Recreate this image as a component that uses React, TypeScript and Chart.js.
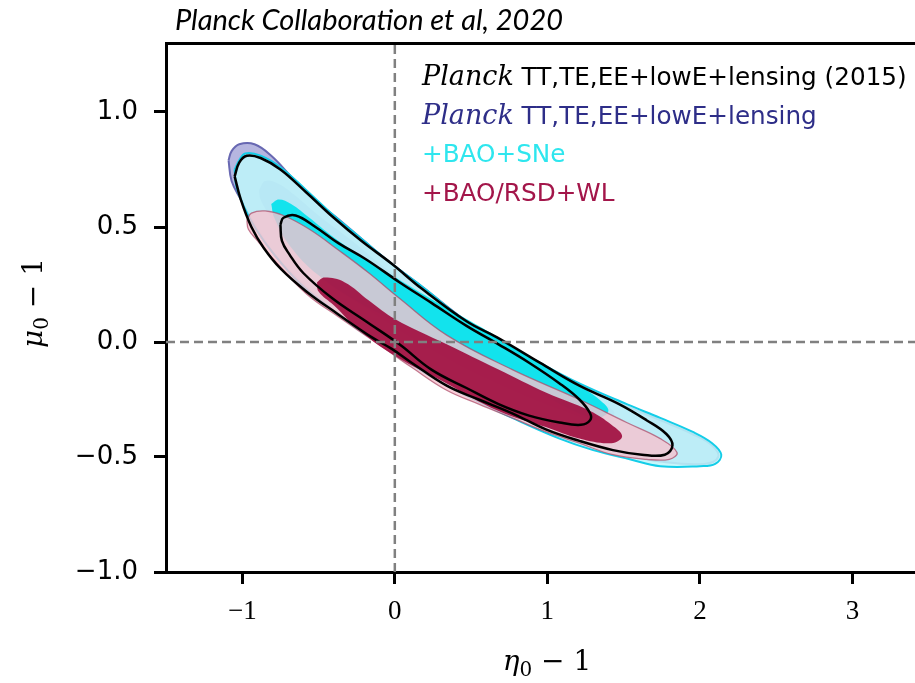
import React, { useEffect, useRef } from 'react';
import { Chart, registerables } from 'chart.js';

Chart.register(...registerables);

type Pt = [number, number];

// Closed 68% / 95% contours in the (η0−1, μ0−1) plane, traced from the upper-left tip.
const planck2015Outer: Pt[] = [
  [-1.05, 0.72], [-1.02, 0.78], [-0.97, 0.81], [-0.88, 0.80], [-0.75, 0.75], [-0.58, 0.65],
  [-0.40, 0.54], [-0.22, 0.44], [-0.02, 0.34], [0.18, 0.23], [0.47, 0.09], [0.67, 0.02],
  [0.95, -0.09], [1.21, -0.19], [1.47, -0.27], [1.65, -0.34], [1.78, -0.40], [1.82, -0.45],
  [1.77, -0.49], [1.62, -0.49], [1.43, -0.47], [1.21, -0.43], [0.99, -0.38], [0.77, -0.31],
  [0.55, -0.25], [0.34, -0.19], [0.11, -0.09], [-0.02, -0.03], [-0.15, 0.02], [-0.37, 0.12],
  [-0.58, 0.22], [-0.75, 0.32], [-0.86, 0.41], [-0.94, 0.50], [-1.01, 0.62],
];

const planck2015Inner: Pt[] = [
  [-0.75, 0.51], [-0.73, 0.54], [-0.65, 0.55], [-0.52, 0.50], [-0.37, 0.43], [-0.19, 0.36],
  [0.03, 0.26], [0.24, 0.17], [0.47, 0.07], [0.68, -0.01], [0.88, -0.09], [1.08, -0.18],
  [1.21, -0.25], [1.28, -0.31], [1.28, -0.34], [1.22, -0.36], [1.08, -0.35], [0.88, -0.32],
  [0.68, -0.27], [0.47, -0.20], [0.24, -0.12], [0.03, -0.01], [-0.19, 0.09], [-0.41, 0.19],
  [-0.60, 0.30], [-0.69, 0.38], [-0.74, 0.44],
];

const planckOuter: Pt[] = [
  [-1.09, 0.79], [-1.07, 0.83], [-1.02, 0.86], [-0.92, 0.86], [-0.81, 0.81], [-0.68, 0.72],
  [-0.53, 0.62], [-0.38, 0.54], [-0.22, 0.45], [-0.02, 0.34], [0.18, 0.24], [0.47, 0.09],
  [0.68, 0.00], [0.95, -0.10], [1.21, -0.19], [1.52, -0.28], [1.74, -0.34], [1.95, -0.40],
  [2.08, -0.45], [2.12, -0.50], [2.03, -0.53], [1.74, -0.52], [1.52, -0.49], [1.30, -0.45],
  [1.08, -0.40], [0.77, -0.31], [0.55, -0.24], [0.34, -0.17], [0.11, -0.08], [-0.10, 0.00],
  [-0.30, 0.09], [-0.48, 0.18], [-0.63, 0.27], [-0.79, 0.38], [-0.92, 0.51], [-1.01, 0.62],
  [-1.07, 0.70],
];

const planckInner: Pt[] = [
  [-0.89, 0.66], [-0.85, 0.70], [-0.77, 0.69], [-0.66, 0.64], [-0.50, 0.55], [-0.30, 0.45],
  [-0.02, 0.30], [0.29, 0.16], [0.68, -0.04], [1.08, -0.17], [1.34, -0.26], [1.44, -0.31],
  [1.34, -0.34], [1.08, -0.29], [0.68, -0.18], [0.29, -0.05], [-0.10, 0.11], [-0.43, 0.26],
  [-0.66, 0.40], [-0.81, 0.54], [-0.88, 0.62],
];

const baoSneOuter: Pt[] = [
  [-1.05, 0.75], [-1.02, 0.79], [-0.98, 0.82], [-0.88, 0.81], [-0.75, 0.76], [-0.58, 0.66],
  [-0.40, 0.55], [-0.22, 0.45], [-0.02, 0.34], [0.18, 0.24], [0.47, 0.09], [0.68, 0.01],
  [0.95, -0.09], [1.21, -0.18], [1.52, -0.27], [1.74, -0.33], [1.95, -0.39], [2.08, -0.44],
  [2.14, -0.49], [2.10, -0.53], [2.00, -0.54], [1.74, -0.54], [1.54, -0.51], [1.30, -0.47],
  [1.08, -0.42], [0.77, -0.33], [0.55, -0.26], [0.34, -0.19], [0.11, -0.10], [-0.04, -0.03],
  [-0.23, 0.05], [-0.43, 0.15], [-0.63, 0.26], [-0.79, 0.38], [-0.91, 0.49], [-0.99, 0.59],
  [-1.04, 0.68],
];

const baoSneInner: Pt[] = [
  [-0.81, 0.60], [-0.76, 0.62], [-0.68, 0.60], [-0.56, 0.54], [-0.41, 0.46], [-0.19, 0.36],
  [-0.02, 0.29], [0.23, 0.19], [0.47, 0.10], [0.68, 0.02], [0.95, -0.09], [1.21, -0.19],
  [1.34, -0.25], [1.40, -0.30], [1.32, -0.33], [1.14, -0.29], [0.95, -0.22], [0.55, -0.09],
  [0.16, 0.04], [-0.23, 0.17], [-0.50, 0.29], [-0.69, 0.42], [-0.79, 0.54],
];

const rsdWlOuter: Pt[] = [
  [-0.97, 0.53], [-0.94, 0.56], [-0.85, 0.57], [-0.73, 0.55], [-0.56, 0.49], [-0.37, 0.40],
  [-0.17, 0.30], [0.03, 0.19], [0.34, 0.03], [0.77, -0.12], [1.21, -0.25], [1.52, -0.35],
  [1.74, -0.42], [1.85, -0.48], [1.80, -0.51], [1.65, -0.51], [1.43, -0.49], [1.21, -0.44],
  [0.99, -0.39], [0.77, -0.33], [0.55, -0.27], [0.34, -0.21], [0.11, -0.11], [-0.02, -0.05],
  [-0.15, 0.01], [-0.37, 0.11], [-0.58, 0.21], [-0.81, 0.37], [-0.90, 0.44], [-0.96, 0.49],
];

const rsdWlInner: Pt[] = [
  [-0.51, 0.26], [-0.46, 0.28], [-0.33, 0.26], [-0.17, 0.18], [0.00, 0.10], [0.34, -0.01],
  [0.68, -0.12], [0.99, -0.22], [1.28, -0.30], [1.42, -0.36], [1.49, -0.41], [1.42, -0.44],
  [1.21, -0.42], [0.99, -0.37], [0.68, -0.30], [0.34, -0.18], [0.00, -0.06], [-0.23, 0.05],
  [-0.40, 0.16], [-0.50, 0.22],
];

const xTicks = [-1, 0, 1, 2, 3];
const yTicks = [-1.0, -0.5, 0.0, 0.5, 1.0];
const xRange: Pt = [-1.5, 3.41];
const yRange: Pt = [-1.0, 1.3];

const titleText = 'Planck Collaboration et al, 2020';
const legendPrefixes = ['Planck', 'Planck', '', ''];
const legendTexts = [' TT,TE,EE+lowE+lensing (2015)', ' TT,TE,EE+lowE+lensing', '+BAO+SNe', '+BAO/RSD+WL'];
const legendColors = ['#000000', '#2e2e88', '#2ee6ee', '#a3164a'];

const minus = (s: string) => s.replace('-', '\u2212');

const loop = (pts: Pt[]) => [...pts, pts[0]].map(([x, y]) => ({ x, y }));

function region(pts: Pt[], fillColor: string, edgeColor: string, edgeWidth: number, order: number) {
  return {
    data: loop(pts),
    showLine: true,
    fill: fillColor ? 'shape' : false,
    backgroundColor: fillColor || 'rgba(0,0,0,0)',
    borderColor: edgeColor,
    borderWidth: edgeWidth,
    tension: 0.4,
    pointRadius: 0,
    pointHoverRadius: 0,
    order,
  };
}

function mathLabel(ctx: CanvasRenderingContext2D, sym: string, sub: string, rest: string, size: number) {
  const symFont = `italic ${size}px "DejaVu Serif"`;
  const subFont = `${Math.round(size * 0.7)}px "DejaVu Serif"`;
  const restFont = `${size}px "DejaVu Serif"`;
  ctx.font = symFont;
  const w1 = ctx.measureText(sym).width;
  ctx.font = subFont;
  const w2 = ctx.measureText(sub).width;
  ctx.font = restFont;
  const w3 = ctx.measureText(rest).width;
  let x = -(w1 + w2 + w3) / 2;
  ctx.font = symFont;
  ctx.fillText(sym, x, 0);
  x += w1;
  ctx.font = subFont;
  ctx.fillText(sub, x, size * 0.22);
  x += w2;
  ctx.font = restFont;
  ctx.fillText(rest, x, 0);
}

const annotate = {
  id: 'annotate',
  afterDraw(chart: any) {
    const ctx: CanvasRenderingContext2D = chart.ctx;
    ctx.save();
    ctx.textBaseline = 'alphabetic';
    ctx.textAlign = 'left';

    ctx.fillStyle = '#000';
    ctx.font = 'italic 29px Lato';
    ctx.fillText(titleText, 175, 30);

    legendTexts.forEach((text, i) => {
      let x = 422;
      const y = 85 + i * 38.5;
      ctx.fillStyle = legendColors[i];
      if (legendPrefixes[i]) {
        ctx.font = 'italic 27px "DejaVu Serif"';
        ctx.fillText(legendPrefixes[i], x, y);
        x += ctx.measureText(legendPrefixes[i]).width;
      }
      ctx.font = '24.7px "DejaVu Sans"';
      ctx.fillText(text, x, y);
    });

    ctx.fillStyle = '#000';
    ctx.save();
    ctx.translate(547, 670);
    mathLabel(ctx, '\u03b7', '0', ' \u2212 1', 28);
    ctx.restore();

    ctx.save();
    ctx.translate(42, 303);
    ctx.rotate(-Math.PI / 2);
    mathLabel(ctx, '\u03bc', '0', ' \u2212 1', 28);
    ctx.restore();

    ctx.restore();
  },
};

export default function App() {
  const ref = useRef<HTMLCanvasElement>(null);

  useEffect(() => {
    const canvas = ref.current;
    if (!canvas) return;

    const datasets: any[] = [
      region(planckOuter, 'rgb(182,182,224)', 'rgb(104,104,178)', 2, 10),
      region(planckInner, 'rgb(150,150,208)', 'rgba(0,0,0,0)', 0, 9),
      region(baoSneOuter, 'rgba(190,246,250,0.86)', 'rgb(20,205,232)', 2, 8),
      region(baoSneInner, 'rgba(0,226,236,0.9)', 'rgba(0,0,0,0)', 0, 7),
      region(rsdWlOuter, 'rgba(246,194,206,0.8)', 'rgba(170,70,100,0.7)', 1.3, 6),
      region(rsdWlInner, 'rgba(160,16,66,0.93)', 'rgba(0,0,0,0)', 0, 5),
      region(planck2015Outer, '', '#000000', 2.5, 4),
      region(planck2015Inner, '', '#000000', 2.5, 3),
      {
        data: [{ x: 0, y: yRange[0] }, { x: 0, y: yRange[1] }],
        showLine: true, fill: false, borderColor: '#808080', borderWidth: 2.5,
        borderDash: [9, 5], pointRadius: 0, order: 1,
      },
      {
        data: [{ x: xRange[0], y: 0 }, { x: xRange[1], y: 0 }],
        showLine: true, fill: false, borderColor: '#808080', borderWidth: 2.5,
        borderDash: [9, 5], pointRadius: 0, order: 1,
      },
    ];

    const chart = new Chart(canvas, {
      type: 'scatter',
      data: { datasets },
      options: {
        animation: false,
        responsive: false,
        maintainAspectRatio: false,
        layout: { padding: 0 },
        events: [],
        plugins: {
          legend: { display: false },
          tooltip: { enabled: false },
          title: { display: false },
        },
        scales: {
          x: {
            type: 'linear',
            position: 'bottom',
            min: xRange[0],
            max: xRange[1],
            afterBuildTicks: (s: any) => { s.ticks = xTicks.map((value) => ({ value })); },
            afterFit: (s: any) => { s.height = 111; },
            grid: { drawOnChartArea: false, drawTicks: true, tickLength: 12, tickWidth: 3, tickColor: '#000' },
            border: { display: true, width: 3, color: '#000' },
            ticks: {
              color: '#000',
              padding: 12,
              maxRotation: 0,
              font: { family: '"Liberation Serif"', size: 27 },
              callback: (v: any) => minus(String(v)),
            },
          },
          xTop: {
            type: 'linear',
            position: 'top',
            min: xRange[0],
            max: xRange[1],
            afterFit: (s: any) => { s.height = 43; },
            grid: { drawOnChartArea: false, drawTicks: false },
            border: { display: true, width: 3, color: '#000' },
            ticks: { display: false },
          },
          y: {
            type: 'linear',
            position: 'left',
            min: yRange[0],
            max: yRange[1],
            afterBuildTicks: (s: any) => { s.ticks = yTicks.map((value) => ({ value })); },
            afterFit: (s: any) => { s.width = 166; },
            grid: { drawOnChartArea: false, drawTicks: true, tickLength: 12, tickWidth: 3, tickColor: '#000' },
            border: { display: true, width: 3, color: '#000' },
            ticks: {
              color: '#000',
              padding: 16,
              font: { family: '"DejaVu Sans"', size: 26 },
              callback: (v: any) => minus(Number(v).toFixed(1)),
            },
          },
        },
      } as any,
      plugins: [annotate],
    });

    return () => chart.destroy();
  }, []);

  return (
    <div style={{ position: 'fixed', left: 0, top: 0, width: 915, height: 683, background: '#fff' }}>
      <canvas ref={ref} width={915} height={683} style={{ width: 915, height: 683, display: 'block' }} />
    </div>
  );
}
